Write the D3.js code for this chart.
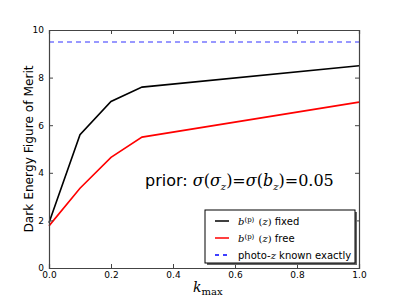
<!DOCTYPE html>
<html>
<head>
<meta charset="utf-8">
<script src="https://cdn.jsdelivr.net/npm/d3@7"></script>
<style>
  body { margin: 0; background: #fff; }
  text { font-family: "DejaVu Sans", sans-serif; }
  .math { font-family: "DejaVu Serif", "Liberation Serif", serif; font-style: italic; }
  .rm { font-family: "DejaVu Serif", "Liberation Serif", serif; font-style: normal; }
</style>
</head>
<body>
<svg id="chart" width="399" height="299"></svg>
<script>
// values
const kmax = [0.0, 0.1, 0.2, 0.3, 1.0];
const fomFixed = [1.9, 5.6, 7.0, 7.6, 8.5];
const fomFree = [1.77, 3.35, 4.65, 5.5, 6.97];
const fomExact = 9.5;
const xTicks = [0, 0.2, 0.4, 0.6, 0.8, 1.0];
const yTicks = [0, 2, 4, 6, 8, 10];

const margin = { left: 49, right: 40, top: 30, bottom: 31 };
const width = 399, height = 299;

const svg = d3.select('#chart');

const x = d3.scaleLinear().domain([0, 1]).range([margin.left, width - margin.right]);
const y = d3.scaleLinear().domain([0, 10]).range([height - margin.bottom, margin.top]);

const frame = '#444';

// lines
const line = d3.line().x((d, i) => x(kmax[i])).y(d => y(d));

svg.append('line')
  .attr('x1', x(0)).attr('x2', x(1))
  .attr('y1', y(fomExact)).attr('y2', y(fomExact))
  .attr('stroke', '#7777ff').attr('stroke-width', 1.5)
  .attr('stroke-dasharray', '5,4');

svg.append('path').datum(fomFixed)
  .attr('d', line).attr('fill', 'none')
  .attr('stroke', '#000').attr('stroke-width', 1.6);

svg.append('path').datum(fomFree)
  .attr('d', line).attr('fill', 'none')
  .attr('stroke', '#ff0000').attr('stroke-width', 1.6);

// axes, ticks pointing inward on all four sides
const tickLen = 4;
const axBottom = svg.append('g').attr('transform', `translate(0,${y(0)})`)
  .call(d3.axisBottom(x).tickValues(xTicks).tickSize(-tickLen).tickPadding(4)
    .tickFormat(d3.format('.1f')));
const axTop = svg.append('g').attr('transform', `translate(0,${y(10)})`)
  .call(d3.axisTop(x).tickValues(xTicks).tickSize(-tickLen).tickFormat(''));
const axLeft = svg.append('g').attr('transform', `translate(${x(0)},0)`)
  .call(d3.axisLeft(y).tickValues(yTicks).tickSize(-tickLen).tickPadding(5)
    .tickFormat(d3.format('d')));
const axRight = svg.append('g').attr('transform', `translate(${x(1)},0)`)
  .call(d3.axisRight(y).tickValues(yTicks).tickSize(-tickLen).tickFormat(''));

for (let g of [axBottom, axTop, axLeft, axRight]) {
  g.select('.domain').attr('stroke', frame).attr('stroke-width', 1.2);
  g.selectAll('.tick line').attr('stroke', frame);
  g.selectAll('.tick text')
    .attr('font-family', '"DejaVu Sans", sans-serif')
    .attr('font-size', 9).attr('fill', '#000');
}

// axis labels
svg.append('text')
  .attr('transform', `translate(33,${(y(0) + y(10)) / 2}) rotate(-90)`)
  .attr('text-anchor', 'middle')
  .attr('font-size', 12.2)
  .text('Dark Energy Figure of Merit');

const xl = svg.append('text')
  .attr('x', 193).attr('y', 292)
  .attr('class', 'math').attr('font-size', 14);
xl.append('tspan').text('k');
xl.append('tspan').attr('font-style', 'normal').attr('font-size', 10)
  .attr('dy', 3).text('max');

// annotation
const ann = svg.append('text').attr('x', 145).attr('y', 186).attr('font-size', 16);
ann.append('tspan').text('prior: ');
ann.append('tspan').attr('class', 'math').text('σ');
ann.append('tspan').attr('class', 'rm').text('(');
ann.append('tspan').attr('class', 'math').text('σ');
ann.append('tspan').attr('class', 'math').attr('font-size', 10).attr('dy', 4).text('z');
ann.append('tspan').attr('class', 'rm').attr('dy', -4).text(')=');
ann.append('tspan').attr('class', 'math').text('σ');
ann.append('tspan').attr('class', 'rm').text('(');
ann.append('tspan').attr('class', 'math').text('b');
ann.append('tspan').attr('class', 'math').attr('font-size', 10).attr('dy', 4).text('z');
ann.append('tspan').attr('class', 'rm').attr('dy', -4).text(')=0.05');

// legend
const legendItems = [
  { pre: 'b', sup: '(p)', post: ' fixed', color: '#000', dash: null },
  { pre: 'b', sup: '(p)', post: ' free', color: '#ff0000', dash: null },
  { pre: null, label: ['photo-', 'z', ' known exactly'], color: '#0000ff', dash: '4,4' }
];
const lg = svg.append('g').attr('transform', 'translate(205,210)');
lg.append('rect').attr('x', 2).attr('y', 2).attr('width', 150).attr('height', 53).attr('fill', '#666');
lg.append('rect').attr('width', 150).attr('height', 53)
  .attr('fill', '#fff').attr('stroke', '#000').attr('stroke-width', 1);

legendItems.forEach((d, i) => {
  const cy = 11 + i * 17;
  lg.append('line').attr('x1', 10).attr('x2', 24).attr('y1', cy).attr('y2', cy)
    .attr('stroke', d.color).attr('stroke-width', 1.5)
    .attr('stroke-dasharray', d.dash);
  const t = lg.append('text').attr('x', 33).attr('y', cy + 3.5).attr('font-size', 10);
  if (d.pre) {
    t.append('tspan').attr('class', 'math').text(d.pre);
    t.append('tspan').attr('class', 'rm').attr('font-size', 7).attr('dy', -3).text(d.sup);
    t.append('tspan').attr('class', 'rm').attr('dy', 3).attr('dx', 1).text(' (');
    t.append('tspan').attr('class', 'math').text('z');
    t.append('tspan').attr('class', 'rm').text(')');
    t.append('tspan').text(d.post);
  } else {
    t.append('tspan').text(d.label[0]);
    t.append('tspan').attr('class', 'math').text(d.label[1]);
    t.append('tspan').text(d.label[2]);
  }
});
</script>
</body>
</html>
